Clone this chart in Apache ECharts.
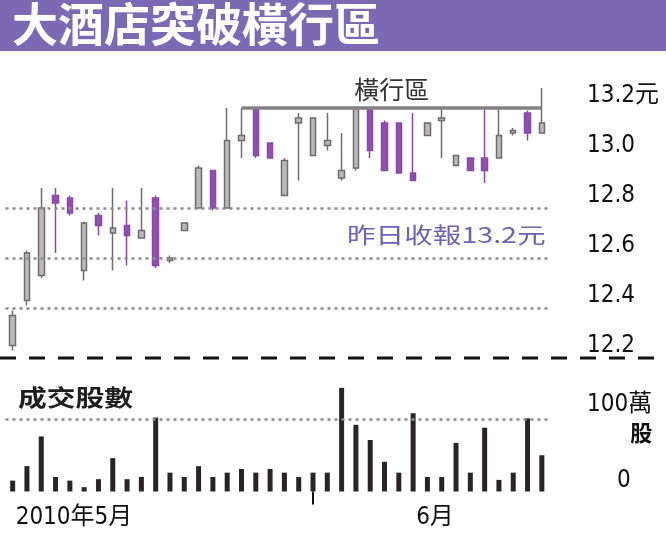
<!DOCTYPE html>
<html><head><meta charset="utf-8">
<script src="https://cdn.jsdelivr.net/npm/echarts@6/dist/echarts.min.js"></script>
<style>html,body{margin:0;padding:0;background:#fff}#c{width:666px;height:540px}</style>
</head><body><div id="c"></div>
<script>
// trading days (Apr 30 – Jun 24, 2010)
const categories = ['4/30','5/3','5/4','5/5','5/6','5/7','5/10','5/11','5/12','5/13','5/14','5/17','5/18','5/19','5/20','5/24','5/25','5/26','5/27','5/28','5/31','6/1','6/2','6/3','6/4','6/7','6/8','6/9','6/10','6/11','6/14','6/15','6/17','6/18','6/21','6/22','6/23','6/24'];
const openP  = [12.25,12.43,12.53,12.85,12.84,12.55,12.77,12.70,12.73,12.68,12.84,12.59,12.71,12.80,12.95,12.80,13.07,13.20,13.06,12.85,13.14,13.01,13.05,12.92,12.96,13.20,13.14,13.14,12.94,13.09,13.15,12.97,13.00,13.00,13.00,13.10,13.18,13.10];
const closeP = [12.37,12.62,12.80,12.82,12.78,12.74,12.73,12.72,12.69,12.71,12.57,12.60,12.74,12.96,12.80,13.07,13.09,13.01,13.00,12.99,13.16,13.16,13.07,12.95,13.20,13.03,12.95,12.94,12.91,13.14,13.16,13.01,12.95,12.95,13.09,13.11,13.10,13.14];
const lowP   = [12.23,12.41,12.52,12.62,12.77,12.51,12.69,12.55,12.57,12.68,12.56,12.58,12.71,12.80,12.79,12.80,13.00,13.00,13.00,12.85,12.91,13.01,13.03,12.91,12.95,13.00,12.95,12.94,12.91,13.09,13.00,12.97,12.95,12.90,13.00,13.09,13.07,13.10];
const highP  = [12.39,12.63,12.88,12.88,12.85,12.745,12.78,12.88,12.83,12.88,12.85,12.61,12.74,12.97,12.95,13.20,13.20,13.20,13.06,13.00,13.18,13.16,13.18,13.10,13.20,13.20,13.15,13.14,13.18,13.14,13.20,13.01,13.00,13.20,13.20,13.12,13.19,13.28];
const volume = [15,35,76,20,15,6,17,46,17,20,102,26,20,35,20,26,31,26,31,26,20,26,26,143,92,71,41,26,108,20,20,67,26,88,16,26,101,50]; // 萬股
const priceTickLabels = ['12.2','12.4','12.6','12.8','13.0','13.2元'];
const priceGridLevels = [12.4, 12.6, 12.8];
const rangeTop = 13.2;
const rangeStart = '5/25', rangeEnd = '6/24';
const volumeTickLabels = {0: '{z|0}', 100: '{a|100萬}\n{b|股}'};
const monthLabels = {'4/30': '2010年5月', '6/10': '6月'};
const monthBoundary = '6/1';

const titleText = '大酒店突破橫行區';
const rangeLabel = '橫行區';
const closeNote = '昨日收報13.2元';
const volTitle = '成交股數';

const CJK = "'Noto Sans CJK TC', 'Noto Sans CJK SC', sans-serif";
const NUM = "'Liberation Sans Narrow', 'DejaVu Sans Condensed', 'Noto Sans CJK TC', sans-serif";

const candleData = categories.map((c, i) => [openP[i], closeP[i], lowP[i], highP[i]]);

const chart = echarts.init(document.getElementById('c'));
chart.setOption({
  animation: false,
  backgroundColor: '#fff',
  grid: [
    {left: 5.5, right: 117, top: 108, height: 250},
    {left: 5.5, right: 117, top: 382.75, height: 108.75}
  ],
  xAxis: [
    {type: 'category', gridIndex: 0, data: categories, boundaryGap: true,
     axisLine: {show: false}, axisTick: {show: false}, axisLabel: {show: false}, splitLine: {show: false}},
    {type: 'category', gridIndex: 1, data: categories, boundaryGap: true,
     axisLine: {show: false},
     axisTick: {show: true, alignWithLabel: true, length: 13,
       interval: (i, v) => v === monthBoundary, lineStyle: {color: '#111', width: 2}},
     axisLabel: {interval: (i, v) => monthLabels[v] !== undefined,
       formatter: v => monthLabels[v] || '', align: 'left', margin: 14, padding: [0,0,0,3],
       fontSize: 24, color: '#111', fontFamily: NUM}}
  ],
  yAxis: [
    {type: 'value', gridIndex: 0, position: 'right', min: 12.2, max: 13.2, interval: 0.2,
     splitLine: {show: false}, axisLine: {show: false}, axisTick: {show: false},
     axisLabel: {margin: 38, verticalAlign: 'bottom', fontSize: 24, color: '#111', fontFamily: NUM,
       formatter: v => priceTickLabels[Math.round((v - 12.2) / 0.2)] || ''}},
    {type: 'value', gridIndex: 1, position: 'right', min: 0, max: 150, interval: 50,
     splitLine: {show: false}, axisLine: {show: false}, axisTick: {show: false},
     axisLabel: {margin: 38, verticalAlign: 'middle', color: '#111', fontFamily: NUM, fontSize: 24,
       formatter: v => volumeTickLabels[Math.round(v)] || '',
       rich: {
         a: {fontSize: 24, fontFamily: NUM, color: '#111', lineHeight: 28},
         b: {fontSize: 22, fontFamily: CJK, fontWeight: 'bold', color: '#111', align: 'right', lineHeight: 28},
         z: {fontSize: 24, fontFamily: NUM, color: '#111', padding: [0, 0, 22, 30]}
       }}}
  ],
  series: [
    {type: 'candlestick', xAxisIndex: 0, yAxisIndex: 0, data: candleData, barWidth: 6, clip: false,
     itemStyle: {color: '#bdb8bb', color0: '#9150b0', borderColor: '#716b6e', borderColor0: '#8a48aa', borderWidth: 1.5},
     markLine: {symbol: ['none', 'none'], silent: true, animation: false,
       data: [
         ...priceGridLevels.map(v => ({yAxis: v, label: {show: false},
            lineStyle: {type: [3, 4], width: 2.5, color: '#8c8c8c'}})),
         [{coord: [rangeStart, rangeTop], label: {show: true, formatter: rangeLabel, position: 'insideMiddleTop',
             distance: 6, fontSize: 25, fontFamily: CJK, color: '#333'},
           lineStyle: {type: 'solid', width: 3.5, color: '#858085'}},
          {coord: [rangeEnd, rangeTop]}]
       ]}},
    {type: 'bar', xAxisIndex: 1, yAxisIndex: 1, data: volume, barWidth: 5,
     itemStyle: {color: '#2a2427'},
     markLine: {symbol: ['none', 'none'], silent: true, label: {show: false},
       data: [{yAxis: 100}], lineStyle: {type: [3, 4], width: 2.5, color: '#8c8c8c'}}}
  ],
  graphic: [
    {type: 'rect', left: 0, top: 0, shape: {width: 666, height: 51}, style: {fill: '#7c69b4'}, z: 0},
    {type: 'text', left: 12, top: 1, style: {text: titleText, fill: '#fff', font: 'bold 46px ' + CJK}, z: 1},
    {type: 'text', left: 18, top: 386, scaleX: 1.25, style: {text: volTitle, fill: '#1e1e1e', font: 'bold 23px ' + CJK}},
    {type: 'text', left: 347, top: 224, scaleX: 1.3, style: {text: closeNote, fill: '#6c64b2', font: '22px ' + CJK}},
    {type: 'line', shape: {x1: 0, y1: 358, x2: 666, y2: 358}, style: {stroke: '#111', lineWidth: 3, lineDash: [16, 13]}}
  ]
});
</script></body></html>
